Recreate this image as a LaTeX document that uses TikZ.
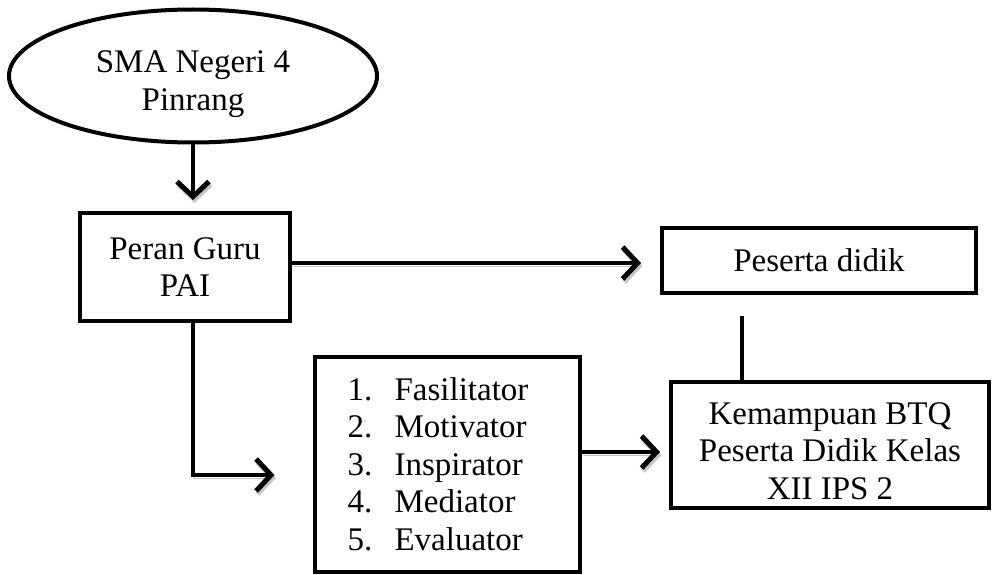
\documentclass[tikz,border=0pt]{standalone}
\usepackage{fontspec}
\setmainfont{Liberation Serif}
\usetikzlibrary{shapes.geometric,arrows.meta}

\begin{document}
\begin{tikzpicture}[x=1pt,y=-1pt,
    font=\fontsize{33}{37.5}\selectfont,
    box/.style={draw,line width=4pt,fill=white,inner sep=0pt,align=center},
    conn/.style={line width=4pt,-{Straight Barb[length=15pt,width=32pt,line width=5pt]},
      preaction={draw=gray!45,transform canvas={shift={(1.5pt,-3pt)}}}}]
  \useasboundingbox (0,0) rectangle (993,575);

  \node[box,ellipse,minimum width=368pt,minimum height=133pt] (sma) at (193,76) {\rule{0pt}{38pt}SMA Negeri 4\\Pinrang};
  \node[box,minimum width=210pt,minimum height=108pt] (peran) at (185,267) {Peran Guru\\PAI};
  \node[box,minimum width=314pt,minimum height=65pt] (peserta) at (819,260) {Peserta didik};
  \node[box,minimum width=265pt,minimum height=215pt] (fungsi) at (447,464) {%
    \begin{tabular}{@{}p{47pt}@{}l@{\hspace{18pt}}}
      \rule{0pt}{34pt}1. & Fasilitator\\ 2. & Motivator\\ 3. & Inspirator\\ 4. & Mediator\\ 5. & Evaluator
    \end{tabular}};
  \node[box,minimum width=318pt,minimum height=126pt] (btq) at (830,445) {\rule{0pt}{34pt}Kemampuan BTQ\\Peserta Didik Kelas\\XII IPS 2};

  % connectors
  \coordinate (drop) at ([xshift=-77pt]peserta.south);
  \draw[conn,shorten >=11pt] (sma.south) -- (sma.south |- peran.north);
  \draw[conn,shorten >=19pt] ([yshift=4pt]peran.east) -- ([yshift=4pt]peran.east -| peserta.west);
  \draw[conn,shorten >=38pt] ([xshift=8pt]peran.south) |- ([yshift=-11pt]fungsi.west);
  \draw[conn,shorten >=9pt] ([yshift=12pt]fungsi.east) -- ([yshift=12pt]fungsi.east -| btq.west);
  \draw[line width=4pt,shorten <=21pt] (drop) -- (drop |- btq.north);
\end{tikzpicture}
\end{document}
